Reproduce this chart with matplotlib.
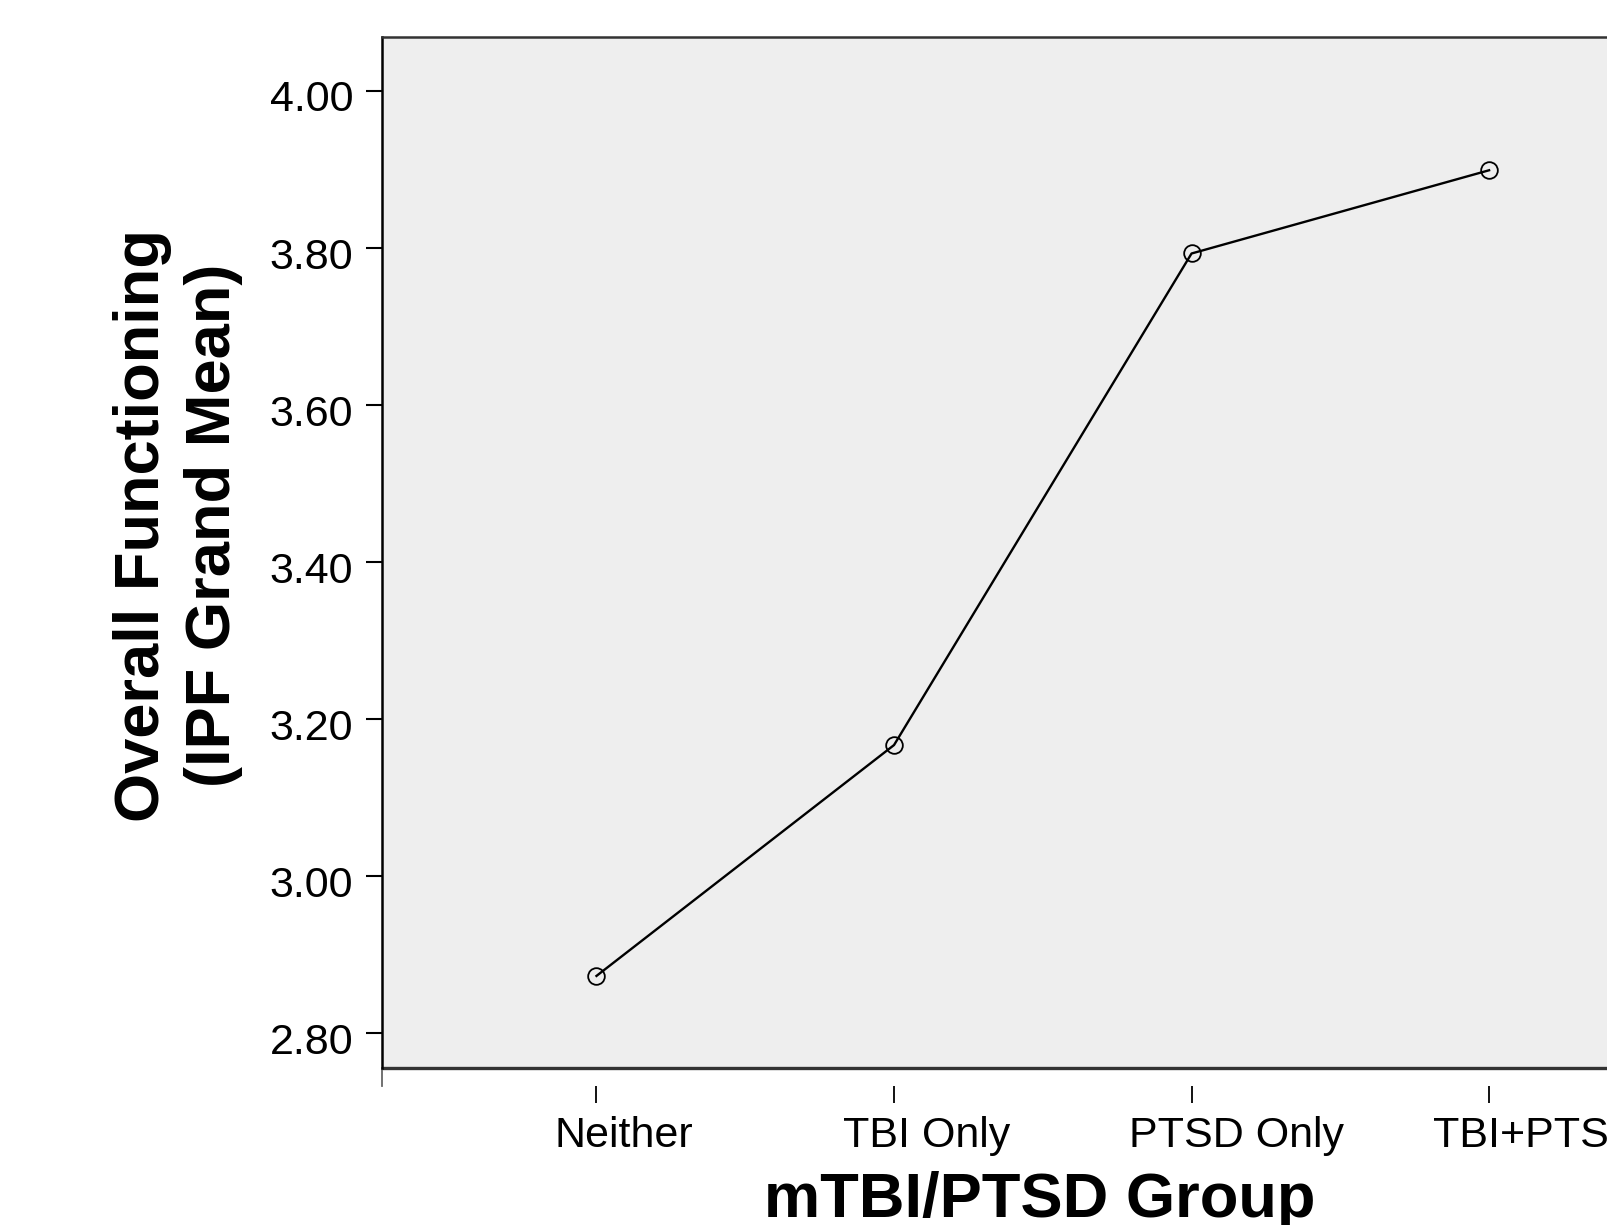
import numpy as np
import matplotlib
matplotlib.use("Agg")
import matplotlib.pyplot as plt
import matplotlib.transforms as mtransforms

plt.rcParams['font.family'] = ['Liberation Sans', 'DejaVu Sans']

# data
groups = ['Neither', 'TBI Only', 'PTSD Only', 'TBI+PTSD']
ipf_means = [2.873, 3.167, 3.793, 3.899]
y_ticks = [2.80, 3.00, 3.20, 3.40, 3.60, 3.80, 4.00]

fig = plt.figure(figsize=(16.07, 12.25), dpi=100)
# axes runs past the right edge of the figure, as in the cropped original
ax = fig.add_axes([0.2375, 0.1282, 0.8228, 0.8414])
ax.set_facecolor('#eeeeee')

idx = np.arange(len(groups))
ax.plot(idx, ipf_means, color='black', lw=1.7, marker='o', markersize=12,
        markerfacecolor='none', markeredgecolor='black', markeredgewidth=1.3)

ax.set_xlim(-0.722, len(groups) - 1 + 0.722)
ax.set_ylim(2.7558, 4.0684)

# y axis
ax.set_yticks(y_ticks)
ax.set_yticklabels(['%.2f' % v for v in y_ticks])
ax.tick_params(axis='y', direction='out', length=11.5, width=1.5, pad=9,
               labelsize=31, color='black')
for lbl in ax.get_yticklabels():
    lbl.set_transform(lbl.get_transform() +
                      mtransforms.ScaledTranslation(0, -0.05, fig.dpi_scale_trans))

# x axis: ticks detached below the frame
ax.spines['bottom'].set_position(('outward', 13))
ax.spines['bottom'].set_visible(False)
ax.spines['right'].set_visible(False)
ax.spines['left'].set_linewidth(1.8)
ax.spines['left'].set_color('black')
ax.spines['top'].set_linewidth(1.8)
ax.spines['top'].set_color('#333333')
ax.set_xticks(idx)
ax.tick_params(axis='x', direction='out', length=12, width=1.3,
               labelbottom=False, color='black')

# bottom frame line and small left stub
ax.plot([0, 1], [0, 0], transform=ax.transAxes, clip_on=False,
        color='#333333', lw=2.4, solid_capstyle='butt')
ax.plot([0, 0], [0, -0.0175], transform=ax.transAxes, clip_on=False,
        color='#666666', lw=1.3)

# category labels (shifted right of ticks like the original)
trans = mtransforms.blended_transform_factory(ax.transData, fig.transFigure)
shifts = [0.275, 0.33, 0.45, 0.47]
for i, (name, dx) in enumerate(zip(groups, shifts)):
    t = trans + mtransforms.ScaledTranslation(dx, 0, fig.dpi_scale_trans)
    ax.text(idx[i], 0.0639, name, transform=t, ha='center', va='baseline',
            fontsize=31, clip_on=False)

fig.text(0.647, 0.0068, 'mTBI/PTSD Group', ha='center', va='baseline',
         fontsize=45.5, fontweight='bold')
fig.text(0.1106, 0.5714, 'Overall Functioning\n(IPF Grand Mean)', rotation=90,
         ha='center', va='center', multialignment='center', fontsize=45.5,
         fontweight='bold', linespacing=1.27)

fig.savefig('out.png', dpi=100)
